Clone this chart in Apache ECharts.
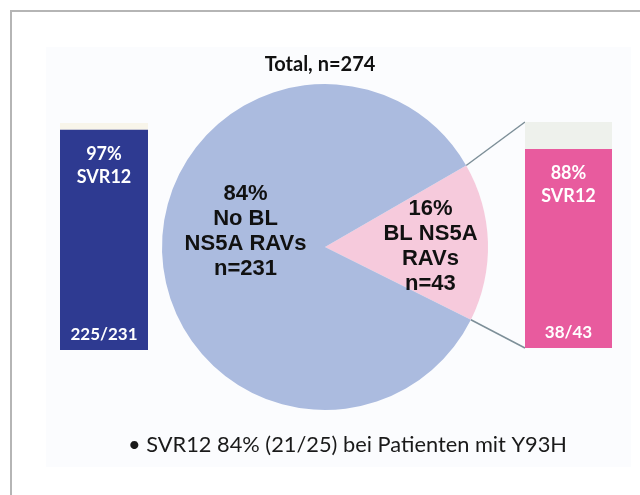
<!DOCTYPE html>
<html>
<head>
<meta charset="utf-8">
<script src="https://cdn.jsdelivr.net/npm/echarts@6/dist/echarts.min.js"></script>
<style>
  html, body { margin: 0; padding: 0; background: #fff; }
  #chart { width: 640px; height: 495px; }
</style>
</head>
<body>
<div id="chart"></div>
<script>
// data
const pieNames = ['BL NS5A RAVs', 'No BL NS5A RAVs'];
const pieCounts = [43, 231];
const pieLabels = ['16%\nBL NS5A\nRAVs\nn=43', '84%\nNo BL\nNS5A RAVs\nn=231'];
const barCats = ['No BL', 'BL'];
const svrPercent = [97, 88];
const svrLabels = ['97%\nSVR12', '88%\nSVR12'];
const svrRatios = ['225/231', '38/43'];
const titleText = 'Total, n=274';
const noteText = '\u2022 SVR12 84% (21/25) bei Patienten mit Y93H';

const pieCenter = [325, 247];
const pieRadius = 163;
const pieStart = 30;
// nudge of the slice labels, as on the slide
const pieLabelShift = [[10.5, 1], [2.5, -9]];
const barGrids = [
  { left: 60, top: 123, width: 88, height: 227 },
  { left: 525, top: 122, width: 87, height: 226 }
];
const barColors = ['#2e3a91', '#e85b9e'];
const barRest = ['#f8f5ea', '#eef1ec'];

const chart = echarts.init(document.getElementById('chart'));

const barSeries = [];
barCats.forEach((cat, i) => {
  barSeries.push({
    type: 'bar',
    xAxisIndex: i,
    yAxisIndex: i,
    barWidth: '100%',
    showBackground: true,
    backgroundStyle: { color: barRest[i] },
    itemStyle: { color: barColors[i] },
    label: {
      show: true,
      position: 'insideTop',
      distance: 13,
      formatter: svrLabels[i],
      color: '#fff',
      fontFamily: 'Lato',
      fontWeight: 'bold',
      fontSize: 18,
      lineHeight: 23
    },
    data: [svrPercent[i]]
  });
  barSeries.push({
    type: 'bar',
    xAxisIndex: i,
    yAxisIndex: i,
    barWidth: '100%',
    barGap: '-100%',
    itemStyle: { color: 'rgba(0,0,0,0)' },
    label: {
      show: true,
      position: 'insideBottom',
      distance: 7,
      formatter: svrRatios[i],
      color: '#fff',
      fontFamily: 'Lato',
      fontWeight: 'bold',
      fontSize: 17
    },
    data: [svrPercent[i]]
  });
});

chart.setOption({
  animation: false,
  backgroundColor: '#fff',
  title: [
    {
      text: titleText,
      left: 315,
      top: 50,
      textAlign: 'center',
      textStyle: { fontFamily: 'Lato', fontWeight: 'bold', fontSize: 20, color: '#111' }
    },
    {
      text: noteText,
      left: 123,
      top: 429,
      textStyle: { fontFamily: 'Lato', fontWeight: 'normal', fontSize: 21.8, color: '#1a1a1a' }
    }
  ],
  grid: barGrids,
  xAxis: barCats.map((c, i) => ({ gridIndex: i, type: 'category', data: [c], show: false })),
  yAxis: barCats.map((c, i) => ({ gridIndex: i, type: 'value', min: 0, max: 100, show: false })),
  series: [
    {
      type: 'pie',
      z: 3,
      center: pieCenter,
      radius: pieRadius,
      startAngle: pieStart,
      clockwise: true,
      silent: true,
      labelLine: { show: false },
      label: {
        show: true,
        position: 'inside',
        color: '#111',
        fontFamily: 'Liberation Sans',
        fontWeight: 'bold',
        fontSize: 22,
        lineHeight: 25
      },
      labelLayout: function(params) {
        const s = pieLabelShift[params.dataIndex];
        return { dx: s[0], dy: s[1] };
      },
      data: pieNames.map((n, i) => ({
        name: n,
        value: pieCounts[i],
        itemStyle: { color: i === 0 ? '#f6cadc' : '#abbbdf' },
        label: { formatter: pieLabels[i] }
      }))
    }
  ].concat(barSeries)
});

// connector lines from the pink slice edges to the BL bar corners
const total = pieCounts.reduce((a, b) => a + b, 0);
const endAngle = pieStart - 360 * pieCounts[0] / total;
function arcPoint(deg) {
  const r = deg * Math.PI / 180;
  return [pieCenter[0] + pieRadius * Math.cos(r), pieCenter[1] - pieRadius * Math.sin(r)];
}
const topPt = chart.convertToPixel({ xAxisIndex: 1, yAxisIndex: 1 }, [barCats[1], 100]);
const botPt = chart.convertToPixel({ xAxisIndex: 1, yAxisIndex: 1 }, [barCats[1], 0]);
const barLeft = topPt[0] - barGrids[1].width / 2;
const p1 = arcPoint(pieStart);
const p2 = arcPoint(endAngle);
const lineStyle = { stroke: '#7d8f98', lineWidth: 1.5 };

chart.setOption({
  graphic: [
    {
      type: 'rect', z: -10, silent: true,
      shape: { x: 46, y: 47, width: 585, height: 420 },
      style: { fill: '#fbfcfe' }
    },
    {
      type: 'polyline', z: -5, silent: true,
      shape: { points: [[11, 495], [11, 11], [640, 11]] },
      style: { stroke: '#b5b5b5', lineWidth: 2, fill: null }
    },
    {
      type: 'line', z: 1, silent: true,
      shape: { x1: p1[0], y1: p1[1], x2: barLeft, y2: topPt[1] },
      style: lineStyle
    },
    {
      type: 'line', z: 1, silent: true,
      shape: { x1: p2[0], y1: p2[1], x2: barLeft, y2: botPt[1] },
      style: lineStyle
    }
  ]
});

window.addEventListener('resize', function() {
  chart.resize();
});
</script>
</body>
</html>
